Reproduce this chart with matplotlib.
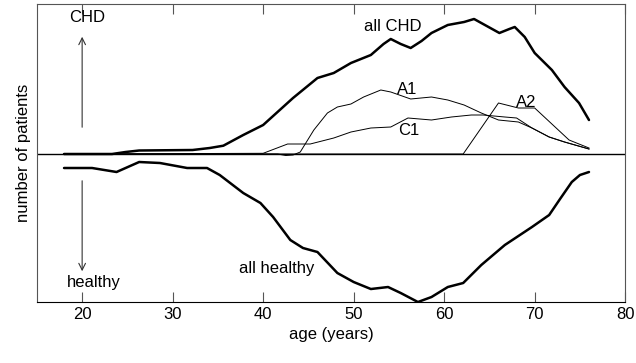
import matplotlib
matplotlib.use("Agg")
import matplotlib.pyplot as plt

plt.rcParams['font.family'] = ['Liberation Sans', 'DejaVu Sans']
plt.rcParams['font.size'] = 12

# curves (age, count in arbitrary units)
chd_age = [18, 23.3, 24.8, 26.3, 32.2, 34.1, 35.6, 37.8, 40, 43.3, 46, 47.8, 49.7, 51.9,
           53.3, 54.1, 55.2, 56.3, 57.5, 58.6, 60.4, 62.2, 63.3, 64.9, 66.1, 67.2, 67.8,
           68.9, 70, 71.9, 73.3, 74.9, 76]
chd_val = [0, 0, 2, 3.5, 4, 6, 8.3, 19, 29, 56, 76, 81, 91, 99,
           110, 115, 110, 106, 113, 121, 129, 132, 135, 127, 121, 125, 127,
           117, 101, 84, 67, 51, 34]

a1_age = [18, 41.6, 42.5, 43.3, 44.1, 45.6, 47.1, 48.2, 49.7, 51.1, 53, 54.1, 56.3,
          58.6, 60.4, 62.2, 64.1, 66, 68.2, 69.7, 71.6, 73.3, 76]
a1_val = [0, 0, -1.5, -1, 2, 24, 41, 47, 50, 57, 64, 62, 55,
          57, 54, 49, 41, 34, 32, 26, 17, 12, 5]

c1_age = [18, 40, 42.7, 45.2, 47.8, 49.7, 51.9, 54.1, 56, 58.6, 60.8, 63, 64.3,
          66.7, 68, 69.7, 71.6, 73.3, 76]
c1_val = [0, 0.7, 10, 10, 16, 22, 26, 27, 36, 34, 37, 39, 39,
          37, 36, 26, 17, 12, 5]

a2_age = [18, 62.1, 66, 68.2, 70, 73.8, 76]
a2_val = [0, 0, 51, 46, 46, 14, 6]

healthy_age = [18, 21.1, 23.8, 26.3, 28.6, 31.6, 33.8, 35.2, 37.8, 39.7, 41.1, 43,
               44.4, 46, 48.2, 50, 51.9, 53.8, 55.2, 57.1, 58.6, 60.4, 62.1, 64.1,
               66.7, 69.7, 71.6, 72.8, 74.1, 75, 76]
healthy_val = [-14, -14, -18, -8, -9, -14, -14, -21, -39, -49, -63, -86,
               -94, -98, -119, -128, -135, -133, -139, -148, -143, -133, -129, -111,
               -91, -73, -61, -45, -28, -21, -18]

fig = plt.figure(figsize=(6.36, 3.63), dpi=100)
ax = fig.add_axes([0.058, 0.168, 0.925, 0.821])

ax.axhline(0, color='black', lw=1.0, zorder=1)
thick = dict(color='black', lw=1.8, solid_joinstyle='round', solid_capstyle='round')
thin = dict(color='black', lw=0.7, solid_joinstyle='round')
ax.plot(chd_age, chd_val, **thick)
ax.plot(healthy_age, healthy_val, **thick)
ax.plot(a1_age, a1_val, **thin)
ax.plot(c1_age, c1_val, **thin)
ax.plot(a2_age, a2_val, **thin)

ax.annotate('', xy=(20, 120), xytext=(20, 24),
            arrowprops=dict(arrowstyle='->', color='#333333', lw=0.8))
ax.annotate('', xy=(20, -120), xytext=(20, -24),
            arrowprops=dict(arrowstyle='->', color='#333333', lw=0.8))

ax.text(20.6, 136, 'CHD', ha='center', va='center')
ax.text(21.3, -128, 'healthy', ha='center', va='center')
ax.text(54.3, 127, 'all CHD', ha='center', va='center')
ax.text(55.9, 64, 'A1', ha='center', va='center')
ax.text(69.1, 52, 'A2', ha='center', va='center')
ax.text(56.1, 24, 'C1', ha='center', va='center')
ax.text(41.5, -114, 'all healthy', ha='center', va='center')

ax.set_xlim(15, 80)
ax.set_ylim(-148, 150)
ax.set_xticks([20, 30, 40, 50, 60, 70, 80])
ax.set_yticks([])
ax.tick_params(axis='x', direction='in', top=True, length=7, width=0.8, color='#555555')
for s in ax.spines.values():
    s.set_color('#555555')
    s.set_linewidth(0.8)
ax.spines['bottom'].set_color('black')
ax.set_xlabel('age (years)')
ax.set_ylabel('number of patients')

fig.savefig('out.png', dpi=100)
